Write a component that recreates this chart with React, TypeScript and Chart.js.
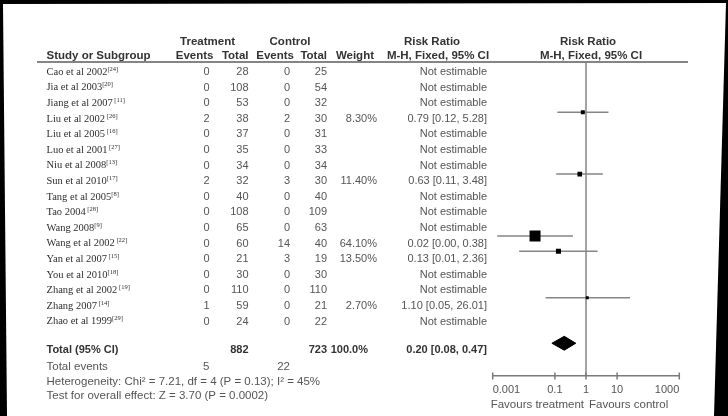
import React, { useEffect, useRef } from "react";
import { Chart, registerables } from "chart.js";

Chart.register(...registerables);

// ---------------- data ----------------
const STUDIES = [
  "Cao et al 2002", "Jia et al 2003", "Jiang et al 2007", "Liu et al 2002", "Liu et al 2005",
  "Luo et al 2001", "Niu et al 2008", "Sun et al 2010", "Tang et al 2005", "Tao 2004",
  "Wang 2008", "Wang et al 2002", "Yan et al 2007", "You et al 2010", "Zhang et al 2002",
  "Zhang 2007", "Zhao et al 1999",
];
const REFS = [
  "[24]", "[20]", " [11]", " [26]", " [16]", " [27]", "[13]", "[17]", "[8]", " [28]",
  "[9]", " [22]", " [15]", "[18]", " [19]", " [14]", "[29]",
];
const TREAT_EVENTS = [0, 0, 0, 2, 0, 0, 0, 2, 0, 0, 0, 0, 0, 0, 0, 1, 0];
const TREAT_TOTAL = [28, 108, 53, 38, 37, 35, 34, 32, 40, 108, 65, 60, 21, 30, 110, 59, 24];
const CTRL_EVENTS = [0, 0, 0, 2, 0, 0, 0, 3, 0, 0, 0, 14, 3, 0, 0, 0, 0];
const CTRL_TOTAL = [25, 54, 32, 30, 31, 33, 34, 30, 40, 109, 63, 40, 19, 30, 110, 21, 22];
const WEIGHTS: (number | null)[] = [null, null, null, 8.3, null, null, null, 11.4, null, null, null, 64.1, 13.5, null, null, 2.7, null];
const RR: (number | null)[] = [null, null, null, 0.79, null, null, null, 0.63, null, null, null, 0.023, 0.13, null, null, 1.1, null];
const CI_LOW: (number | null)[] = [null, null, null, 0.12, null, null, null, 0.11, null, null, null, 0.0014, 0.0071, null, null, 0.05, null];
const CI_HIGH: (number | null)[] = [null, null, null, 5.28, null, null, null, 3.48, null, null, null, 0.38, 2.36, null, null, 26.01, null];

const TOTAL_RR = 0.2;
const TOTAL_LOW = 0.08;
const TOTAL_HIGH = 0.47;
const TOTAL_TREAT_EVENTS = 5;
const TOTAL_CTRL_EVENTS = 22;
const TOTAL_TREAT = 882;
const TOTAL_CTRL = 723;
const TOTAL_WEIGHT = "100.0%";

const X_TICKS = [0.001, 0.1, 1, 10, 1000];
const HETEROGENEITY = "Heterogeneity: Chi\u00b2 = 7.21, df = 4 (P = 0.13); I\u00b2 = 45%";
const OVERALL = "Test for overall effect: Z = 3.70 (P = 0.0002)";
const FAVOURS_LEFT = "Favours treatment";
const FAVOURS_RIGHT = "Favours control";

// ---------------- layout ----------------
const W = 728;
const H = 416;
const Y_MIN = -0.256;
const Y_MAX = 20.07;
const TOTAL_ROW = 17.95;
const SANS = '"Liberation Sans", Arial, Helvetica, sans-serif';
const SERIF = '"Liberation Serif", "Times New Roman", serif';
const HEAD = `bold 11.5px ${SANS}`;
const BODY = `11px ${SANS}`;
const FOOT = `11.5px ${SANS}`;
const BOLD = `bold 11px ${SANS}`;
const HEAD_COL = "#333";
const BODY_COL = "#555";
const LINE_COL = "#858585";

const rowY = (i: number) => 72 + 15.6 * i;
const fmt = (v: number) => v.toFixed(2);

function txt(ctx: CanvasRenderingContext2D, s: string, x: number, y: number, align: CanvasTextAlign, font: string, color: string) {
  ctx.font = font;
  ctx.fillStyle = color;
  ctx.textAlign = align;
  ctx.textBaseline = "middle";
  ctx.fillText(s, x, y);
}

const framePlugin = {
  id: "frame",
  beforeDraw(chart: any) {
    const ctx: CanvasRenderingContext2D = chart.ctx;
    ctx.save();
    ctx.fillStyle = "#000";
    ctx.fillRect(0, 0, W, H);
    ctx.fillStyle = "#fff";
    ctx.beginPath();
    ctx.moveTo(3, 4);
    ctx.lineTo(726, 3);
    ctx.lineTo(714, H);
    ctx.lineTo(7, H);
    ctx.closePath();
    ctx.fill();
    // header rule
    ctx.strokeStyle = LINE_COL;
    ctx.lineWidth = 2;
    ctx.beginPath();
    ctx.moveTo(37, 62);
    ctx.lineTo(688, 62);
    ctx.stroke();
    ctx.restore();
  },
  afterDraw(chart: any) {
    const ctx: CanvasRenderingContext2D = chart.ctx;
    ctx.save();
    // axis tick marks (both sides of axis line)
    const xs = chart.scales.x;
    const ay = chart.chartArea.bottom;
    ctx.strokeStyle = "#7a7a7a";
    ctx.lineWidth = 1.5;
    xs.ticks.forEach((t: any) => {
      const px = xs.getPixelForValue(t.value);
      ctx.beginPath();
      ctx.moveTo(px, ay - 3.5);
      ctx.lineTo(px, ay + 3.5);
      ctx.stroke();
    });

    // headers
    txt(ctx, "Treatment", 207.5, 41.5, "center", HEAD, HEAD_COL);
    txt(ctx, "Control", 290, 41.5, "center", HEAD, HEAD_COL);
    txt(ctx, "Risk Ratio", 432, 41.5, "center", HEAD, HEAD_COL);
    txt(ctx, "Risk Ratio", 588, 41.5, "center", HEAD, HEAD_COL);
    txt(ctx, "Study or Subgroup", 46.5, 56, "left", HEAD, HEAD_COL);
    txt(ctx, "Events", 213.5, 56, "right", HEAD, HEAD_COL);
    txt(ctx, "Total", 248.5, 56, "right", HEAD, HEAD_COL);
    txt(ctx, "Events", 294, 56, "right", HEAD, HEAD_COL);
    txt(ctx, "Total", 327, 56, "right", HEAD, HEAD_COL);
    txt(ctx, "Weight", 374, 56, "right", HEAD, HEAD_COL);
    txt(ctx, "M-H, Fixed, 95% CI", 438, 56, "center", HEAD, HEAD_COL);
    txt(ctx, "M-H, Fixed, 95% CI", 591, 56, "center", HEAD, HEAD_COL);

    // study rows
    STUDIES.forEach((name, i) => {
      const y = rowY(i);
      ctx.font = `10.5px ${SERIF}`;
      const w = ctx.measureText(name).width;
      txt(ctx, name, 46.5, y, "left", `10.5px ${SERIF}`, "#2e2e2e");
      txt(ctx, REFS[i], 46.5 + w, y - 3, "left", `6.5px ${SERIF}`, "#2e2e2e");
      txt(ctx, String(TREAT_EVENTS[i]), 209.5, y, "right", BODY, BODY_COL);
      txt(ctx, String(TREAT_TOTAL[i]), 248.5, y, "right", BODY, BODY_COL);
      txt(ctx, String(CTRL_EVENTS[i]), 290, y, "right", BODY, BODY_COL);
      txt(ctx, String(CTRL_TOTAL[i]), 327, y, "right", BODY, BODY_COL);
      const wt = WEIGHTS[i];
      if (wt !== null) txt(ctx, `${wt.toFixed(2)}%`, 377, y, "right", BODY, BODY_COL);
      const rr = RR[i];
      const lo = CI_LOW[i];
      const hi = CI_HIGH[i];
      const s = rr === null || lo === null || hi === null ? "Not estimable" : `${fmt(rr)} [${fmt(lo)}, ${fmt(hi)}]`;
      txt(ctx, s, 487, y, "right", BODY, BODY_COL);
    });

    // totals
    txt(ctx, "Total (95% CI)", 46.5, 350, "left", BOLD, HEAD_COL);
    txt(ctx, String(TOTAL_TREAT), 248.5, 350, "right", BOLD, HEAD_COL);
    txt(ctx, String(TOTAL_CTRL), 327, 350, "right", BOLD, HEAD_COL);
    txt(ctx, TOTAL_WEIGHT, 368, 350, "right", BOLD, HEAD_COL);
    txt(ctx, `${fmt(TOTAL_RR)} [${fmt(TOTAL_LOW)}, ${fmt(TOTAL_HIGH)}]`, 487, 350, "right", BOLD, HEAD_COL);
    txt(ctx, "Total events", 46.5, 367, "left", FOOT, BODY_COL);
    txt(ctx, String(TOTAL_TREAT_EVENTS), 209.5, 367, "right", FOOT, BODY_COL);
    txt(ctx, String(TOTAL_CTRL_EVENTS), 290, 367, "right", FOOT, BODY_COL);
    txt(ctx, HETEROGENEITY, 46.5, 381.5, "left", FOOT, BODY_COL);
    txt(ctx, OVERALL, 46.5, 395.5, "left", FOOT, BODY_COL);

    // favours labels
    const x1 = xs.getPixelForValue(1);
    txt(ctx, FAVOURS_LEFT, x1 - 2, 405, "right", `11.5px ${SANS}`, BODY_COL);
    txt(ctx, FAVOURS_RIGHT, x1 + 3, 405, "left", `11.5px ${SANS}`, BODY_COL);
    ctx.restore();
  },
};

export default function App() {
  const ref = useRef<HTMLCanvasElement | null>(null);

  useEffect(() => {
    if (!ref.current) return;
    document.body.style.margin = "0";

    const idx = RR.map((v, i) => (v === null ? -1 : i)).filter((i) => i >= 0);
    const markerSide = (w: number) => Math.max(3, 11 * Math.sqrt(w / 64.1));

    const datasets: any[] = [
      {
        label: "studies",
        data: idx.map((i) => ({ x: RR[i], y: i })),
        showLine: false,
        pointStyle: "rect",
        pointRadius: idx.map((i) => markerSide(WEIGHTS[i] as number) / Math.SQRT2),
        pointBackgroundColor: "#000",
        pointBorderWidth: 0,
      },
      {
        label: "total-upper",
        data: [
          { x: TOTAL_LOW, y: TOTAL_ROW },
          { x: TOTAL_RR, y: TOTAL_ROW - 0.45 },
          { x: TOTAL_HIGH, y: TOTAL_ROW },
        ],
        borderColor: "#000",
        borderWidth: 1,
        pointRadius: 0,
        fill: false,
        tension: 0,
      },
      {
        label: "total-lower",
        data: [
          { x: TOTAL_LOW, y: TOTAL_ROW },
          { x: TOTAL_RR, y: TOTAL_ROW + 0.45 },
          { x: TOTAL_HIGH, y: TOTAL_ROW },
        ],
        borderColor: "#000",
        backgroundColor: "#000",
        borderWidth: 1,
        pointRadius: 0,
        fill: "-1",
        tension: 0,
      },
      ...idx.map((i) => ({
        label: `ci-${i}`,
        data: [
          { x: CI_LOW[i], y: i },
          { x: CI_HIGH[i], y: i },
        ],
        borderColor: LINE_COL,
        borderWidth: 1.5,
        pointRadius: 0,
        fill: false,
      })),
      {
        label: "no-effect",
        data: [
          { x: 1, y: Y_MIN },
          { x: 1, y: Y_MAX },
        ],
        borderColor: LINE_COL,
        borderWidth: 1.5,
        pointRadius: 0,
        fill: false,
      },
    ];

    const chart = new Chart(ref.current, {
      type: "line",
      data: { datasets },
      options: {
        animation: false,
        responsive: false,
        devicePixelRatio: 1,
        events: [],
        layout: { padding: { left: 492.7, right: 48.7, top: 62, bottom: 0 } },
        plugins: { legend: { display: false }, tooltip: { enabled: false } },
        scales: {
          x: {
            type: "logarithmic",
            position: "bottom",
            min: 0.001,
            max: 1000,
            afterBuildTicks: (s: any) => {
              s.ticks = X_TICKS.map((v) => ({ value: v }));
            },
            afterFit: (s: any) => {
              s.height = 40;
            },
            grid: { display: false, drawTicks: false },
            border: { display: true, color: "#7a7a7a", width: 1.5 },
            ticks: {
              align: "inner",
              autoSkip: false,
              maxRotation: 0,
              padding: 7,
              color: BODY_COL,
              font: { family: SANS, size: 11 },
              callback: (v: any) => String(v),
            },
          },
          y: {
            type: "linear",
            min: Y_MIN,
            max: Y_MAX,
            reverse: true,
            display: false,
          },
        },
      } as any,
      plugins: [framePlugin],
    });
    return () => chart.destroy();
  }, []);

  return (
    <div style={{ position: "fixed", left: 0, top: 0, width: W, height: H }}>
      <canvas ref={ref} width={W} height={H} style={{ display: "block" }} />
    </div>
  );
}
